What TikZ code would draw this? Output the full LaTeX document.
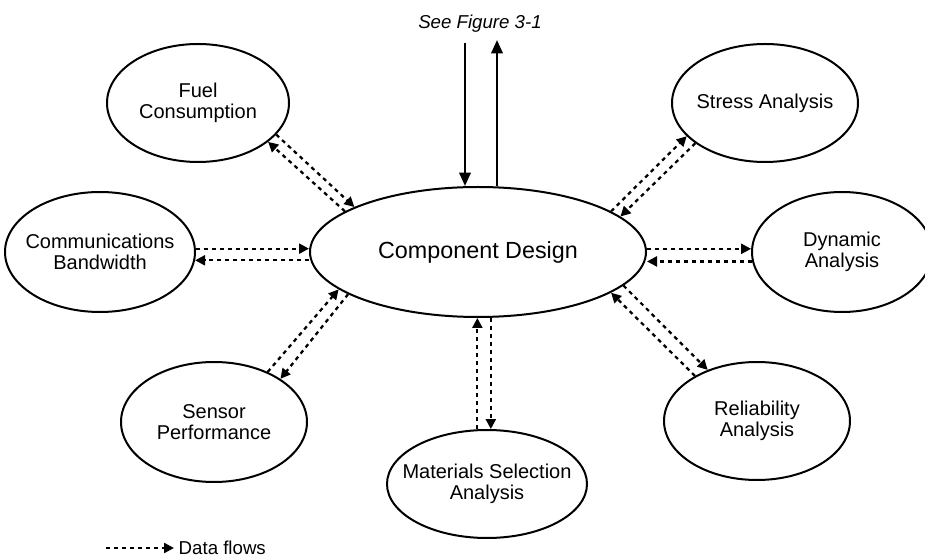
\documentclass[tikz,border=0pt]{standalone}
\usepackage{fontspec}
\setmainfont{Liberation Sans}
\usetikzlibrary{arrows.meta,shapes.geometric,calc}
\begin{document}
\begin{tikzpicture}[x=0.75pt,y=-0.75pt,
  sz/.style 2 args={minimum width=#1*0.75pt,minimum height=#2*0.75pt},
  bub/.style={draw,ellipse,line width=1.5pt,inner sep=0pt},
  lab/.style={align=center,font=\fontsize{15}{16}\selectfont},
  flow/.style={line width=1.7pt,dash pattern=on 3pt off 3pt,-{Triangle[length=7.5pt,width=7.5pt]}},
  solidarrow/.style={line width=1.8pt,-{Triangle[length=10pt,width=8.5pt]}}]
\useasboundingbox (0,0) rectangle (925,559);

\node[bub,sz={336}{130},label={[lab,font=\fontsize{17.5}{19}\selectfont]center:Component Design}] (comp) at (478,252) {};
\node[bub,sz={182}{118},label={[lab]center:{Fuel\\Consumption}}] (fuel) at (198,103) {};
\node[bub,sz={186}{118},label={[lab]center:{Stress Analysis}}] (stress) at (765,103) {};
\node[bub,sz={190}{120},label={[lab]center:{Communications\\Bandwidth}}] (comms) at (100,252) {};
\node[bub,sz={180}{120},label={[lab]center:{Dynamic\\Analysis}}] (dyn) at (842,252) {};
\node[bub,sz={186}{120},label={[lab]center:{Sensor\\Performance}}] (sensor) at (214,422) {};
\node[bub,sz={200}{108},label={[lab]center:{Materials Selection\\Analysis}}] (mat) at (487,484) {};
\node[bub,sz={186}{118},label={[lab]center:{Reliability\\Analysis}}] (rel) at (757,421) {};

% top reference
\node[font=\itshape\fontsize{14}{16}\selectfont] (fig) at (480,24) {See Figure 3-1};
\coordinate (d1) at (465,43);
\coordinate (u1) at (497,40);
\draw[solidarrow] (d1) -- (d1 |- comp.north);
\draw[solidarrow] (u1 |- comp.north) -- (u1);

% data flows
\draw[flow] (comp.163.9) -- (fuel.-29.3);
\draw[flow] (fuel.-22.3) -- (comp.160.9);

\draw[flow] (comp.17) -- (stress.203.6);
\draw[flow] (stress.210.5) -- (comp.14.7);

\draw[flow] (comms.2) -- (comms.2 -| comp.west);
\draw[flow] (comms.-5.5 -| comp.west) -- (comms.-5.5);

\draw[flow] (dyn.178 -| comp.east) -- (dyn.178);
\draw[flow] (dyn.186) -- (dyn.186 -| comp.east);

\draw[flow] (sensor.43.4) -- (comp.195.5);
\draw[flow] (comp.198.8) -- (sensor.33.1);

\draw[flow] (mat.100.5) -- (mat.100.5 |- comp.south);
\draw[flow] (mat.86 |- comp.south) -- (mat.86);

\draw[flow] (rel.144.5) -- (comp.-17.2);
\draw[flow] (comp.-13.7) -- (rel.134.4);

% legend
\node[anchor=west,font=\fontsize{14}{16}\selectfont] (leg) at (174,548) {Data flows};
\coordinate (l1) at (106,548);
\draw[flow] (l1) -- (leg.west);
\end{tikzpicture}
\end{document}
